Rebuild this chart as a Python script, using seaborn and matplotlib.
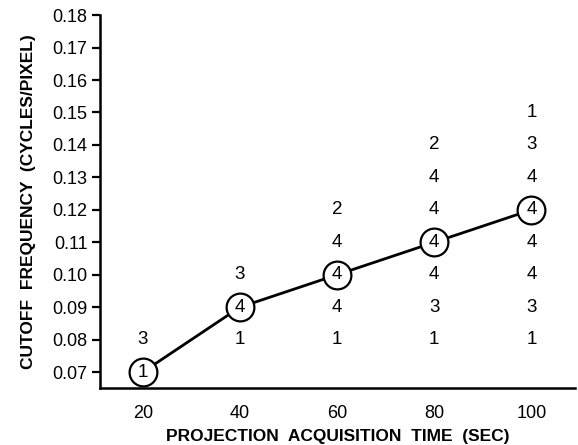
import pandas as pd
import matplotlib
matplotlib.use("Agg")
import matplotlib.pyplot as plt
import seaborn as sns

# acquisition times and the median cutoff frequency (circled points)
tiempos = [20, 40, 60, 80, 100]
medianas = [0.07, 0.09, 0.10, 0.11, 0.12]
n_mediana = [1, 4, 4, 4, 4]

# number of cases found at each cutoff, per acquisition time (non-median)
pts_x = [20, 40, 40, 60, 60, 60, 60, 80, 80, 80, 80, 80, 80,
         100, 100, 100, 100, 100, 100, 100]
pts_y = [0.08, 0.08, 0.10, 0.08, 0.09, 0.11, 0.12, 0.08, 0.09, 0.10, 0.12, 0.13, 0.14,
         0.08, 0.09, 0.10, 0.11, 0.13, 0.14, 0.15]
pts_n = [3, 1, 3, 1, 4, 4, 2, 1, 3, 4, 4, 4, 2,
         1, 3, 4, 4, 4, 3, 1]

y_ticks = [0.07, 0.08, 0.09, 0.10, 0.11, 0.12, 0.13, 0.14, 0.15, 0.16, 0.17, 0.18]

df_med = pd.DataFrame({"t": tiempos, "f": medianas, "n": n_mediana})
df_pts = pd.DataFrame({"t": pts_x, "f": pts_y, "n": pts_n})

sns.set_theme(style="ticks")
plt.rcParams["font.family"] = ["Liberation Sans", "DejaVu Sans"]

fig = plt.figure(figsize=(5.78, 4.45), dpi=100)
ax = fig.add_axes([0.173, 0.128, 0.822, 0.838])

sns.lineplot(data=df_med, x="t", y="f", ax=ax, color="black", linewidth=2.0,
             marker="o", markersize=20, markerfacecolor="white",
             markeredgecolor="black", markeredgewidth=1.6, zorder=2)

for _, r in df_med.iterrows():
    ax.text(r["t"], r["f"], f"{int(r['n'])}", ha="center", va="center",
            fontsize=13.5, color="black", zorder=3)
for _, r in df_pts.iterrows():
    ax.text(r["t"], r["f"], f"{int(r['n'])}", ha="center", va="center",
            fontsize=13.5, color="black", zorder=3)

ax.set_xlim(11.2, 109)
ax.set_ylim(0.0651, 0.18)
ax.set_xticks(tiempos)
ax.set_xticklabels([str(t) for t in tiempos])
ax.set_yticks(y_ticks)
ax.set_yticklabels([f"{v:.2f}" for v in y_ticks])

ax.tick_params(axis="y", length=6, width=1.6, color="black", labelsize=13,
               labelcolor="black", pad=3)
ax.tick_params(axis="x", length=0, labelsize=13, labelcolor="black", pad=12)

for s in ["top", "right"]:
    ax.spines[s].set_visible(False)
for s in ["left", "bottom"]:
    ax.spines[s].set_linewidth(1.8)
    ax.spines[s].set_color("black")

ax.set_xlabel("PROJECTION  ACQUISITION  TIME  (SEC)", fontsize=12.5,
              fontweight="bold", color="black", labelpad=5)
ax.set_ylabel("CUTOFF  FREQUENCY  (CYCLES/PIXEL)", fontsize=12.5,
              fontweight="bold", color="black", labelpad=12)

fig.savefig("out.png", dpi=100)
